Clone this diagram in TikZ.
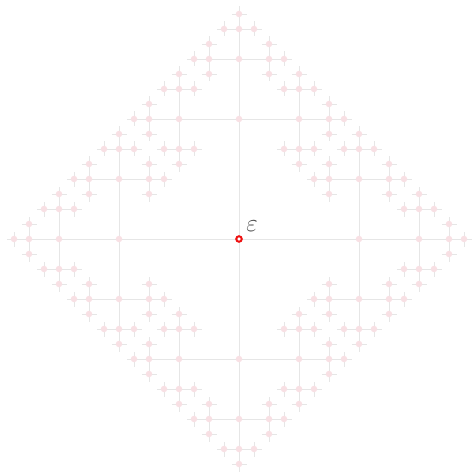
\documentclass[tikz,border=0pt]{standalone}
\usepackage{amsmath,amssymb}
\usepackage{xcolor}
\usepackage{tikz}
\definecolor{cEDGE}{HTML}{E6E6E6}
\definecolor{cVERT}{HTML}{F8E0E4}
\definecolor{cROOT}{HTML}{EE1111}

% one arm of the tree: name, x, y, length, direction we came in by
\newcommand{\growarm}[5]{%
  \foreach \dd/\dx/\dy in {0/1/0,1/0/1,2/-1/0,3/0/-1}{%
    \pgfmathtruncatemacro{\back}{#5+2-4*(#5>1)}%
    \ifnum\dd=\back\relax\else
      \pgfmathsetmacro{\nx}{#2+(\dx)*#4}%
      \pgfmathsetmacro{\ny}{#3+(\dy)*#4}%
      \pgfmathsetmacro{\nl}{#4/2}%
      \coordinate (#1\dd) at (\nx,\ny);
      \draw[edge] (#1) -- (#1\dd);
      \ifdim #4pt>10pt
        \edef\armnext{\noexpand\growarm{#1\dd}{\nx}{\ny}{\nl}{\dd}}\armnext
      \fi
    \fi}}
% dots on the vertices, drawn over the edges
\newcommand{\dotarm}[3]{% name, length, direction we came in by
  \foreach \dd in {0,1,2,3}{%
    \pgfmathtruncatemacro{\back}{#3+2-4*(#3>1)}%
    \ifnum\dd=\back\relax\else
      \ifdim #2pt>10pt
        \node[vertex] (n#1\dd) at (#1\dd) {};
        \pgfmathsetmacro{\nl}{#2/2}%
        \edef\armnext{\noexpand\dotarm{#1\dd}{\nl}{\dd}}\armnext
      \fi
    \fi}}

\begin{document}
\begin{tikzpicture}[
  x=1pt, y=-1pt,
  vertex/.style={circle, fill=cVERT, inner sep=0pt, minimum size=6.5pt},
  root/.style={circle, draw=cROOT, fill=white, line width=2pt, inner sep=0pt, minimum size=5.5pt},
  edge/.style={draw=cEDGE, line width=0.9pt}
]
\useasboundingbox (0,0) rectangle (472,473);

\coordinate (v) at (239,239);
\growarm{v}{239}{239}{120}{9}
\dotarm{v}{120}{9}
\node[root] (nv) at (v) {};

\node[text=black!70, font=\Huge] (eps) at (252,226) {$\varepsilon$};
\end{tikzpicture}
\end{document}
